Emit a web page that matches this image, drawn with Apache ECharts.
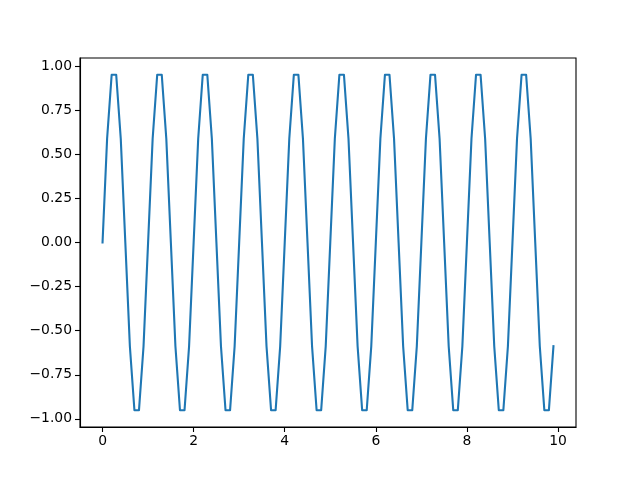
<!DOCTYPE html>
<html>
<head>
<meta charset="utf-8">
<script src="https://cdn.jsdelivr.net/npm/echarts@6/dist/echarts.min.js"></script>
<style>html,body{margin:0;padding:0;background:#fff}#c{width:640px;height:480px}</style>
</head>
<body>
<div id="c"></div>
<script>
var xValues = [
  0.0,0.1,0.2,0.3,0.4,0.5,0.6,0.7,0.8,0.9,
  1.0,1.1,1.2,1.3,1.4,1.5,1.6,1.7,1.8,1.9,
  2.0,2.1,2.2,2.3,2.4,2.5,2.6,2.7,2.8,2.9,
  3.0,3.1,3.2,3.3,3.4,3.5,3.6,3.7,3.8,3.9,
  4.0,4.1,4.2,4.3,4.4,4.5,4.6,4.7,4.8,4.9,
  5.0,5.1,5.2,5.3,5.4,5.5,5.6,5.7,5.8,5.9,
  6.0,6.1,6.2,6.3,6.4,6.5,6.6,6.7,6.8,6.9,
  7.0,7.1,7.2,7.3,7.4,7.5,7.6,7.7,7.8,7.9,
  8.0,8.1,8.2,8.3,8.4,8.5,8.6,8.7,8.8,8.9,
  9.0,9.1,9.2,9.3,9.4,9.5,9.6,9.7,9.8,9.9
];
var yValues = [
  0,0.588,0.951,0.951,0.588,0,-0.588,-0.951,-0.951,-0.588,
  0,0.588,0.951,0.951,0.588,0,-0.588,-0.951,-0.951,-0.588,
  0,0.588,0.951,0.951,0.588,0,-0.588,-0.951,-0.951,-0.588,
  0,0.588,0.951,0.951,0.588,0,-0.588,-0.951,-0.951,-0.588,
  0,0.588,0.951,0.951,0.588,0,-0.588,-0.951,-0.951,-0.588,
  0,0.588,0.951,0.951,0.588,0,-0.588,-0.951,-0.951,-0.588,
  0,0.588,0.951,0.951,0.588,0,-0.588,-0.951,-0.951,-0.588,
  0,0.588,0.951,0.951,0.588,0,-0.588,-0.951,-0.951,-0.588,
  0,0.588,0.951,0.951,0.588,0,-0.588,-0.951,-0.951,-0.588,
  0,0.588,0.951,0.951,0.588,0,-0.588,-0.951,-0.951,-0.588
];
var xTicks = [0, 2, 4, 6, 8, 10];
var yTicks = [-1.0, -0.75, -0.5, -0.25, 0, 0.25, 0.5, 0.75, 1.0];

var data = xValues.map(function (x, i) { return [x, yValues[i]]; });
var fontFam = 'DejaVu Sans';
function fmtY(v) { var s = Math.abs(v).toFixed(2); return (v < -1e-9 ? '\u2212' : '') + s; }
function fmtX(v) { return (v < 0 ? '\u2212' : '') + Math.abs(Math.round(v)); }

var chart = echarts.init(document.getElementById('c'), null, {renderer: 'canvas'});
chart.setOption({
  animation: false,
  grid: {left: 80, right: 64, top: 58, bottom: 53, show: true, borderColor: '#000', borderWidth: 1.1, backgroundColor: 'transparent'},
  xAxis: {
    type: 'value', min: -0.495, max: 10.395, position: 'bottom',
    splitLine: {show: false},
    axisLine: {show: true, onZero: false, lineStyle: {color: '#000', width: 1.1}},
    axisTick: {show: true, inside: false, length: 5, lineStyle: {color: '#000', width: 1.1}, customValues: xTicks},
    axisLabel: {show: true, customValues: xTicks, formatter: fmtX, color: '#000', fontFamily: fontFam, fontSize: 13.9, margin: 7}
  },
  yAxis: {
    type: 'value', min: -1.0461, max: 1.0461, position: 'left',
    splitLine: {show: false},
    axisLine: {show: true, onZero: false, lineStyle: {color: '#000', width: 1.1}},
    axisTick: {show: true, inside: false, length: 5, lineStyle: {color: '#000', width: 1.1}, customValues: yTicks},
    axisLabel: {show: true, customValues: yTicks, formatter: fmtY, color: '#000', fontFamily: fontFam, fontSize: 13.9, margin: 8}
  },
  series: [{
    type: 'line', data: data, showSymbol: false, symbol: 'none',
    lineStyle: {color: '#1f77b4', width: 2.1, cap: 'square', join: 'round'},
    clip: true
  }]
});
</script>
</body>
</html>
